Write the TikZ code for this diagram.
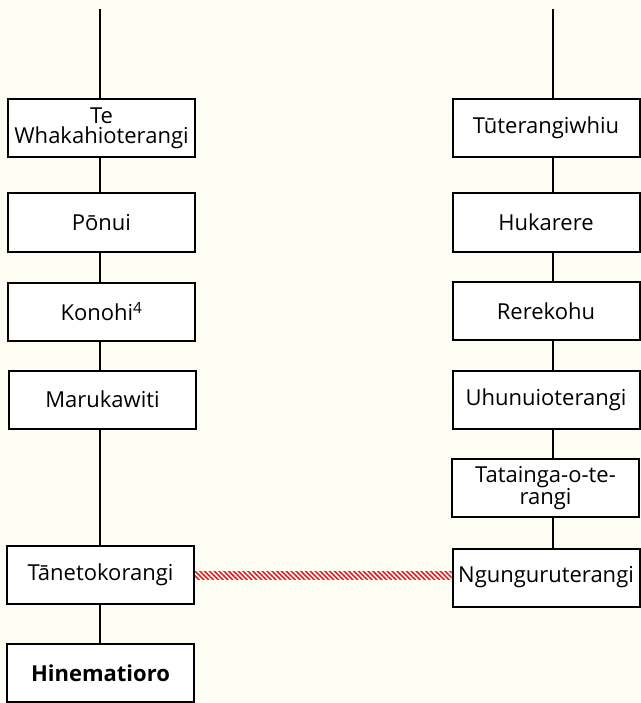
\documentclass[tikz,border=0pt]{standalone}
\usepackage{fontspec}
\setmainfont{Open Sans}
\usetikzlibrary{patterns.meta}
\definecolor{bgcream}{RGB}{253,253,243}
\definecolor{hatchred}{RGB}{222,30,36}
\tikzset{
  person/.style={draw=black, line width=2pt, fill=white, inner sep=0pt, outer sep=0pt,
    minimum width=187pt, minimum height=58pt, align=center,
    font=\fontsize{22}{20}\selectfont},
  link/.style={draw=black, line width=2pt},
  hatchlink/.style={pattern={Lines[angle=-45,distance=3.4pt,line width=1.6pt]}, pattern color=hatchred}
}
\begin{document}
\begin{tikzpicture}[x=1pt,y=-1pt]
\fill[bgcream] (0,0) rectangle (640,703);
\useasboundingbox (0,0) rectangle (640,703);
% left column
\coordinate (lt) at (99.5,9);
\node[person] (L1) at (101.5,128.5) {Te\\Whakahioterangi};
\node[person] (L2) at (101.5,222.5) {Pōnui};
\node[person] (L3) at (101.5,311.5) {Konohi\textsuperscript{4}};
\node[person] (L4) at (102.5,399.5) {Marukawiti};
\node[person] (L5) at (100.5,575) {Tānetokorangi};
\node[person] (L6) at (100.5,673) {\bfseries Hinematioro};
% right column
\coordinate (rt) at (553,9);
\node[person] (R1) at (546,128) {Tūterangiwhiu};
\node[person] (R2) at (546,222.5) {Hukarere};
\node[person] (R3) at (546,311) {Rerekohu};
\node[person] (R4) at (546,400) {Uhunuioterangi};
\node[person] (R5) at (545.5,488) {Tatainga-o-te-\\rangi};
\node[person] (R6) at (546,577.5) {Ngunguruterangi};
% connectors left
\draw[link] (lt) -- (lt |- L1.north);
\draw[link] (lt |- L1.south) -- (lt |- L2.north);
\draw[link] (lt |- L2.south) -- (lt |- L3.north);
\draw[link] (lt |- L3.south) -- (lt |- L4.north);
\draw[link] (lt |- L4.south) -- (lt |- L5.north);
\draw[link] (lt |- L5.south) -- (lt |- L6.north);
% connectors right
\draw[link] (rt) -- (rt |- R1.north);
\draw[link] (rt |- R1.south) -- (rt |- R2.north);
\draw[link] (rt |- R2.south) -- (rt |- R3.north);
\draw[link] (rt |- R3.south) -- (rt |- R4.north);
\draw[link] (rt |- R4.south) -- (rt |- R5.north);
\draw[link] (rt |- R5.south) -- (rt |- R6.north);
% marriage link
\fill[hatchlink] ([yshift=4pt,xshift=1pt]L5.east) rectangle ([yshift=-4pt,xshift=-1pt]L5.east -| R6.west);
\end{tikzpicture}
\end{document}
